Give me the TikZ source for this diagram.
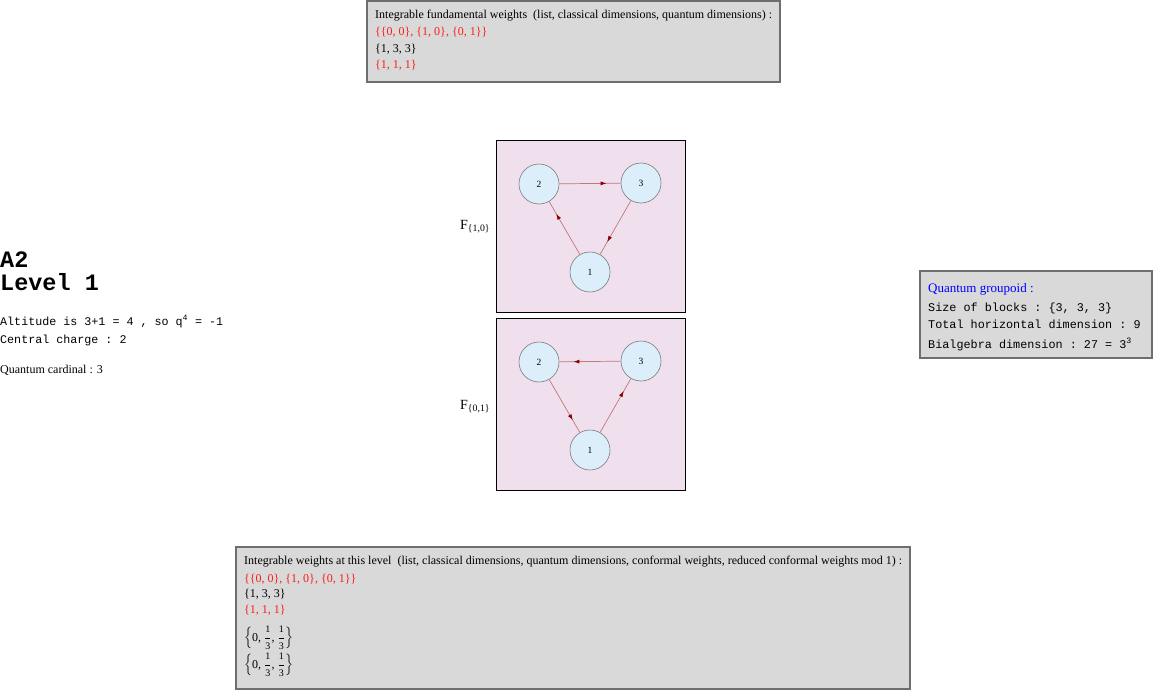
\documentclass[tikz,border=0pt]{standalone}
\usepackage{amsmath}
\usepackage{fontspec}
\setmainfont{Liberation Serif}
\setmonofont{Liberation Mono}
\usetikzlibrary{arrows.meta,decorations.markings}
\definecolor{boxgray}{HTML}{D9D9D9}
\definecolor{boxedge}{HTML}{6E6E6E}
\definecolor{pinkbg}{HTML}{F0E0EE}
\definecolor{nodeblue}{HTML}{DDEEFB}
\definecolor{nodeedge}{HTML}{7A7A7A}
\definecolor{edgeline}{HTML}{C07878}
\definecolor{tipred}{HTML}{8B0000}
\definecolor{txtred}{HTML}{FF1A1A}
\definecolor{txtblue}{HTML}{0000FF}
\newcommand{\thirdfr}{\dfrac{\text{\fontsize{10}{10}\selectfont 1}}{\text{\fontsize{10}{10}\selectfont 3}}}
\tikzset{
  infobox/.style={draw=boxedge, line width=1.3pt, fill=boxgray},
  graphbox/.style={draw=black, line width=0.8pt, fill=pinkbg},
  vertex/.style={circle, draw=nodeedge, line width=0.6pt, fill=nodeblue, minimum size=40pt, inner sep=0pt, font=\fontsize{9.5}{9.5}\selectfont},
  txt/.style={anchor=base west, inner sep=0pt, font=\fontsize{12}{14}\selectfont},
  mono/.style={anchor=base west, inner sep=0pt, font=\ttfamily\fontsize{11.8}{14}\selectfont},
  bigmono/.style={anchor=base west, inner sep=0pt, font=\ttfamily\bfseries\fontsize{23.5}{25}\selectfont},
  flabel/.style={anchor=base west, inner sep=0pt, font=\fontsize{14}{16}\selectfont},
  edge/.style={draw=edgeline, line width=0.7pt,
    postaction={decorate, decoration={markings,
      mark=at position 0.77 with {\arrow[tipred]{Latex[length=6pt,width=4pt]}}}}}
}
\begin{document}
\begin{tikzpicture}[x=1pt,y=-1pt]
\useasboundingbox (0,0) rectangle (1154,693);
% top box
\draw[infobox] (367,1) rectangle (780,82);
\node[txt] (t1) at (375,19) {Integrable fundamental weights\ \ (list, classical dimensions, quantum dimensions) :};
\node[txt, text=txtred] (t2) at (375,36) {\{\{0, 0\}, \{1, 0\}, \{0, 1\}\}};
\node[txt] (t3) at (375,53) {\{1, 3, 3\}};
\node[txt, text=txtred] (t4) at (375,69) {\{1, 1, 1\}};
% left texts
\node[bigmono] (a2) at (0,267) {A2};
\node[bigmono] (lev) at (0,290) {Level 1};
\node[mono, font=\ttfamily\fontsize{11.7}{14}\selectfont] (alt) at (0,325) {Altitude is 3+1 = 4 , so q\textsuperscript{4} = -1};
\node[mono, font=\ttfamily\fontsize{11.7}{14}\selectfont] (cc) at (0,343) {Central charge : 2};
\node[txt] (qc) at (0,373) {Quantum cardinal : 3};
% graph 1
\draw[graphbox] (496,140) rectangle (685,312);
\node[flabel] (f1) at (460,229) {F\textsubscript{\{1,0\}}};
\node[vertex] (a2n) at (539,184) {2};
\node[vertex] (a3n) at (641,183) {3};
\node[vertex] (a1n) at (590,272) {1};
\draw[edge] (a2n) -- (a3n);
\draw[edge] (a3n) -- (a1n);
\draw[edge] (a1n) -- (a2n);
% graph 2
\draw[graphbox] (496,318) rectangle (685,490);
\node[flabel] (f2) at (460,409) {F\textsubscript{\{0,1\}}};
\node[vertex] (b2n) at (539,362) {2};
\node[vertex] (b3n) at (641,361) {3};
\node[vertex] (b1n) at (590,450) {1};
\draw[edge] (b3n) -- (b2n);
\draw[edge] (b2n) -- (b1n);
\draw[edge] (b1n) -- (b3n);
% right box
\draw[infobox] (920,271) rectangle (1152,358);
\node[txt, text=txtblue, font=\fontsize{13}{15}\selectfont] (qg) at (928,292) {Quantum groupoid :};
\node[mono] (sb) at (928,311) {Size of blocks : \{3, 3, 3\}};
\node[mono] (th) at (928,328) {Total horizontal dimension : 9};
\node[mono] (bd) at (928,348) {Bialgebra dimension : 27 = 3\textsuperscript{3}};
% bottom box
\draw[infobox] (236,547) rectangle (910,689);
\node[txt] (b1) at (244,564) {Integrable weights at this level\ \ (list, classical dimensions, quantum dimensions, conformal weights, reduced conformal weights mod 1) :};
\node[txt, text=txtred] (b2) at (244,582) {\{\{0, 0\}, \{1, 0\}, \{0, 1\}\}};
\node[txt] (b3) at (244,597) {\{1, 3, 3\}};
\node[txt, text=txtred] (b4) at (244,613) {\{1, 1, 1\}};
\node[txt] (b5) at (244,641) {$\left\{\text{0, }\thirdfr\text{, }\thirdfr\right\}$};
\node[txt] (b6) at (244,668) {$\left\{\text{0, }\thirdfr\text{, }\thirdfr\right\}$};
\end{tikzpicture}
\end{document}
